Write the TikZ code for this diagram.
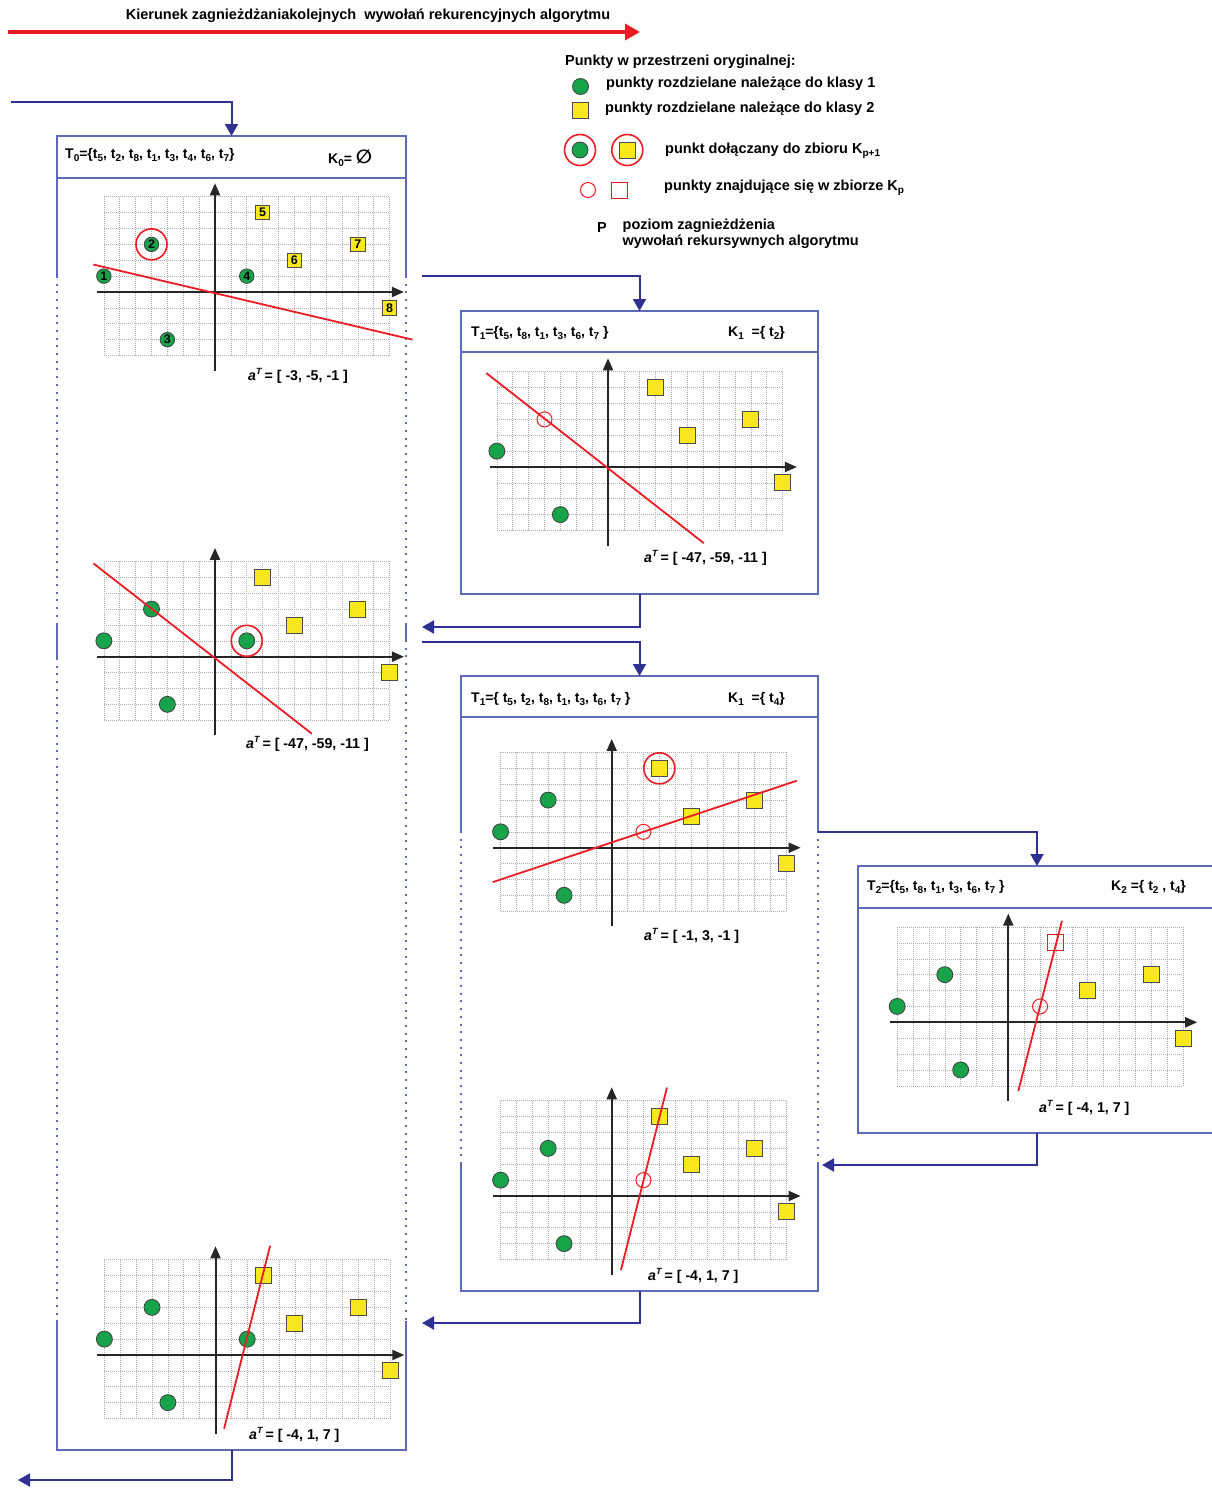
\documentclass[tikz,border=0pt]{standalone}
\usepackage{fontspec}
\setmainfont{Liberation Sans}
\newfontfamily\dejavu{DejaVu Sans}
\usetikzlibrary{arrows.meta}
\definecolor{connblue}{RGB}{46,49,146}
\definecolor{boxblue}{RGB}{95,105,185}
\definecolor{redc}{RGB}{237,28,36}
\definecolor{greenc}{RGB}{22,163,74}
\definecolor{yellowc}{RGB}{250,232,30}
\newcommand\sbs[1]{\raisebox{-0.4ex}{\fontsize{10}{10}\selectfont #1}}
\newcommand\sps[1]{\raisebox{0.75ex}{\fontsize{9}{9}\selectfont #1}}
\tikzset{
 conn/.style={draw=connblue, line width=2pt, -{Triangle[length=12pt,width=13pt]}},
 redarrow/.style={draw=redc, line width=3.5pt, -{Triangle[length=15pt,width=16pt]}},
 boxl/.style={draw=boxblue, line width=1.5pt},
 boxd/.style={draw=boxblue, line width=1.5pt, dash pattern=on 2pt off 5.7pt},
 boxnode/.style={inner sep=0pt, outer sep=0pt, draw=none},
 txt/.style={font=\bfseries\fontsize{14.5}{16}\selectfont, inner sep=0pt, anchor=west},
 hdr/.style={font=\bfseries\fontsize{14}{15}\selectfont, inner sep=0pt, anchor=west},
 lbl/.style={font=\bfseries\fontsize{14.2}{15}\selectfont, inner sep=0pt, anchor=west},
 gpt/.style={circle, fill=greenc, draw=black!75, line width=0.8pt, inner sep=0pt, minimum size=16pt},
 ypt/.style={rectangle, fill=yellowc, draw=black!70, line width=0.8pt, inner sep=0pt, minimum size=16pt},
 gnum/.style={gpt, minimum size=14.5pt, font=\bfseries\fontsize{12.5}{12.5}\selectfont},
 ynum/.style={ypt, minimum size=14.5pt, font=\bfseries\fontsize{12.5}{12.5}\selectfont},
 ring/.style={circle, draw=redc, line width=1.6pt, inner sep=0pt, minimum size=31pt},
 kcirc/.style={circle, draw=redc, line width=1pt, inner sep=0pt, minimum size=15pt},
 ksq/.style={rectangle, draw=redc, line width=1pt, inner sep=0pt, minimum size=16pt},
 axisl/.style={draw=black!85, line width=2pt, -{Triangle[length=12pt,width=10pt]}},
 sepl/.style={draw=redc, line width=1.8pt},
 gridl/.style={draw=black!32, line width=0.6pt, dash pattern=on 0.9pt off 1.1pt},
}
\newcommand\plotbase{%
  \foreach \i in {-7,...,11} \draw[gridl] (\i,-4) -- (\i,6);
  \foreach \j in {-4,...,6} \draw[gridl] (-7,\j) -- (11,\j);
  \draw[axisl] (-7.45,0) -- (11.9,0);
  \draw[axisl] (0,-4.95) -- (0,6.85);
}
\begin{document}
\begin{tikzpicture}[x=1pt,y=-1pt]
\useasboundingbox (0,0) rectangle (1211,1488);

% title arrow
\node[font=\bfseries\fontsize{14.5}{16}\selectfont, inner sep=0pt] (title) at (368,16) {Kierunek zagnieżdżaniakolejnych\ \ wywołań rekurencyjnych algorytmu};
\coordinate (ta) at (8,32);
\coordinate (tb) at (640,32);
\draw[redarrow] (ta) -- (tb);

% legend
\node[txt] (leg0) at (565,62) {Punkty w przestrzeni oryginalnej:};
\node[gpt] (lg1) at (580.5,86.5) {};
\node[txt] (lt1) at (606,84) {punkty rozdzielane należące do klasy 1};
\node[ypt] (lg2) at (580.5,110.5) {};
\node[txt] (lt2) at (605,109) {punkty rozdzielane należące do klasy 2};
\node[gpt] (lg3) at (580,150) {};
\node[ring] (lg3r) at (580,150) {};
\node[ypt] (lg4) at (627.3,150) {};
\node[ring] (lg4r) at (627.3,150) {};
\node[txt] (lt3) at (665,151) {punkt dołączany do zbioru K\sbs{p+1}};
\node[kcirc] (lg5) at (588,190) {};
\node[ksq] (lg6) at (619.3,190) {};
\node[txt] (lt4) at (664,188) {punkty znajdujące się w zbiorze K\sbs{p}};
\node[txt] (lp) at (597,228) {P};
\node[txt, align=left] (lt5) at (622.5,234) {poziom zagnieżdżenia\\wywołań rekursywnych algorytmu};

% boxes (named)
\node[boxnode, minimum width=349pt, minimum height=1314pt] (L0) at (231.5,793) {};
\node[boxnode, minimum width=357pt, minimum height=283pt] (L1a) at (639.5,452.5) {};
\node[boxnode, minimum width=357pt, minimum height=615pt] (L1b) at (639.5,983.5) {};
\node[boxnode, minimum width=358pt, minimum height=267pt] (L2) at (1037,999.5) {};

% box L0 borders
\draw[boxl] (57,136) rectangle (406,178);
\draw[boxl] (57,178) -- (57,276);
\draw[boxl] (406,178) -- (406,276);
\draw[boxd] (57,276) -- (57,625);
\draw[boxd] (406,276) -- (406,625);
\draw[boxl] (57,625) -- (57,658);
\draw[boxl] (406,625) -- (406,640);
\draw[boxd] (57,658) -- (57,1321);
\draw[boxd] (406,640) -- (406,1321);
\draw[boxl] (57,1321) -- (57,1450) -- (406,1450) -- (406,1321);
% box L1a
\draw[boxl] (461,311) rectangle (818,594);
\draw[boxl] (461,352) -- (818,352);
% box L1b
\draw[boxl] (461,676) rectangle (818,717);
\draw[boxl] (461,717) -- (461,831);
\draw[boxl] (818,717) -- (818,831);
\draw[boxd] (461,831) -- (461,1163);
\draw[boxd] (818,831) -- (818,1163);
\draw[boxl] (461,1163) -- (461,1291) -- (818,1291) -- (818,1163);
% box L2
\draw[boxl] (1216,866) -- (858,866) -- (858,1133) -- (1216,1133);
\draw[boxl] (858,908) -- (1216,908);

% headers
\node[hdr] (h0) at (65,155) {T\sbs{0}=\{t\sbs{5}, t\sbs{2}, t\sbs{8}, t\sbs{1}, t\sbs{3}, t\sbs{4}, t\sbs{6}, t\sbs{7}\}};
\node[hdr] (k0) at (328,158) {K\sbs{0}= {\dejavu\fontsize{19}{19}\selectfont ∅}};
\node[hdr] (h1a) at (471,333) {T\sbs{1}=\{t\sbs{5}, t\sbs{8}, t\sbs{1}, t\sbs{3}, t\sbs{6}, t\sbs{7} \}};
\node[hdr] (k1a) at (728,333) {K\sbs{1}\ \ =\{ t\sbs{2}\}};
\node[hdr] (h1b) at (471,699) {T\sbs{1}=\{ t\sbs{5}, t\sbs{2}, t\sbs{8}, t\sbs{1}, t\sbs{3}, t\sbs{6}, t\sbs{7} \}};
\node[hdr] (k1b) at (728,699) {K\sbs{1}\ \ =\{ t\sbs{4}\}};
\node[hdr] (h2) at (867,887) {T\sbs{2}=\{t\sbs{5}, t\sbs{8}, t\sbs{1}, t\sbs{3}, t\sbs{6}, t\sbs{7} \}};
\node[hdr] (k2) at (1111,887) {K\sbs{2}\ =\{ t\sbs{2} , t\sbs{4}\}};

% connectors
\coordinate (s0) at (11,102);
\coordinate (c1) at (422,276);
\coordinate (r1) at (422,627);
\coordinate (c2) at (422,642);
\coordinate (c3) at (818,832);
\coordinate (r3) at (822,1165);
\coordinate (r2) at (422,1323);
\coordinate (r0) at (18,1480);
\draw[conn] (s0) -| (L0.north);
\draw[conn] (c1) -| (L1a.north);
\draw[conn] (L1a.south) |- (r1);
\draw[conn] (c2) -| (L1b.north);
\draw[conn] (c3) -| (L2.north);
\draw[conn] (L2.south) |- (r3);
\draw[conn] (L1b.south) |- (r2);
\draw[conn] (L0.south) |- (r0);

% plot P0a
\begin{scope}[shift={(215,292)}, x=15.875pt, y=15.875pt]
\plotbase
\node[gnum] (a1) at (-7,1) {1};
\node[gnum] (a2) at (-4,3) {2};
\node[gnum] (a3) at (-3,-3) {3};
\node[gnum] (a4) at (2,1) {4};
\node[ynum] (a5) at (3,5) {5};
\node[ynum] (a6) at (5,2) {6};
\node[ynum] (a7) at (9,3) {7};
\node[ynum] (a8) at (11,-1) {8};
\node[ring] (a2r) at (-4,3) {};
\draw[sepl] (-7.66,1.73) -- (12.44,-3.0);
\end{scope}
\node[lbl] (la) at (248,376) {\textit{a}\sps{\textit{T}}\,= [ -3, -5, -1 ]};

% plot P1a
\begin{scope}[shift={(608,467)}, x=15.875pt, y=15.875pt]
\plotbase
\node[gpt] (b1) at (-7,1) {};
\node[gpt] (b3) at (-3,-3) {};
\node[ypt] (b5) at (3,5) {};
\node[ypt] (b6) at (5,2) {};
\node[ypt] (b7) at (9,3) {};
\node[ypt] (b8) at (11,-1) {};
\draw[sepl] (-7.67,5.92) -- (6.04,-4.8);
\node[kcirc] (b2) at (-4,3) {};
\end{scope}
\node[lbl] (lb) at (644,558) {\textit{a}\sps{\textit{T}}\,= [ -47, -59, -11 ]};

% plot P0b
\begin{scope}[shift={(215,656.7)}, x=15.875pt, y=15.875pt]
\plotbase
\node[gpt] (c1p) at (-7,1) {};
\node[gpt] (c2p) at (-4,3) {};
\node[gpt] (c3p) at (-3,-3) {};
\node[gpt] (c4p) at (2,1) {};
\node[ypt] (c5p) at (3,5) {};
\node[ypt] (c6p) at (5,2) {};
\node[ypt] (c7p) at (9,3) {};
\node[ypt] (c8p) at (11,-1) {};
\node[ring] (c4r) at (2,1) {};
\draw[sepl] (-7.66,5.88) -- (6.1,-4.85);
\end{scope}
\node[lbl] (lc) at (246,744) {\textit{a}\sps{\textit{T}}\,= [ -47, -59, -11 ]};

% plot P1b
\begin{scope}[shift={(611.7,847.7)}, x=15.875pt, y=15.875pt]
\plotbase
\node[gpt] (d1) at (-7,1) {};
\node[gpt] (d2) at (-4,3) {};
\node[gpt] (d3) at (-3,-3) {};
\node[ypt] (d5) at (3,5) {};
\node[ypt] (d6) at (5,2) {};
\node[ypt] (d7) at (9,3) {};
\node[ypt] (d8) at (11,-1) {};
\node[ring] (d5r) at (3,5) {};
\draw[sepl] (-7.5,-2.17) -- (11.66,4.22);
\node[kcirc] (d4) at (2,1) {};
\end{scope}
\node[lbl] (ld) at (644,936) {\textit{a}\sps{\textit{T}}\,= [ -1, 3, -1 ]};

% plot P2
\begin{scope}[shift={(1008.3,1022.3)}, x=15.875pt, y=15.875pt]
\plotbase
\node[gpt] (e1) at (-7,1) {};
\node[gpt] (e2) at (-4,3) {};
\node[gpt] (e3) at (-3,-3) {};
\node[ypt] (e6) at (5,2) {};
\node[ypt] (e7) at (9,3) {};
\node[ypt] (e8) at (11,-1) {};
\draw[sepl] (0.63,-4.33) -- (3.38,6.39);
\node[kcirc] (e4) at (2,1) {};
\node[ksq] (e5) at (3,5) {};
\end{scope}
\node[lbl] (le) at (1039,1108) {\textit{a}\sps{\textit{T}}\,= [ -4, 1, 7 ]};

% plot P1c
\begin{scope}[shift={(611.7,1196)}, x=15.875pt, y=15.875pt]
\plotbase
\node[gpt] (f1) at (-7,1) {};
\node[gpt] (f2) at (-4,3) {};
\node[gpt] (f3) at (-3,-3) {};
\node[ypt] (f5) at (3,5) {};
\node[ypt] (f6) at (5,2) {};
\node[ypt] (f7) at (9,3) {};
\node[ypt] (f8) at (11,-1) {};
\draw[sepl] (0.58,-4.67) -- (3.48,6.83);
\node[kcirc] (f4) at (2,1) {};
\end{scope}
\node[lbl] (lf) at (648,1276) {\textit{a}\sps{\textit{T}}\,= [ -4, 1, 7 ]};

% plot P0c
\begin{scope}[shift={(215.5,1355)}, x=15.875pt, y=15.875pt]
\plotbase
\node[gpt] (g1) at (-7,1) {};
\node[gpt] (g2) at (-4,3) {};
\node[gpt] (g3) at (-3,-3) {};
\node[gpt] (g4) at (2,1) {};
\node[ypt] (g5) at (3,5) {};
\node[ypt] (g6) at (5,2) {};
\node[ypt] (g7) at (9,3) {};
\node[ypt] (g8) at (11,-1) {};
\draw[sepl] (0.54,-4.64) -- (3.44,6.88);
\end{scope}
\node[lbl] (lg) at (249,1435) {\textit{a}\sps{\textit{T}}\,= [ -4, 1, 7 ]};

\end{tikzpicture}
\end{document}
